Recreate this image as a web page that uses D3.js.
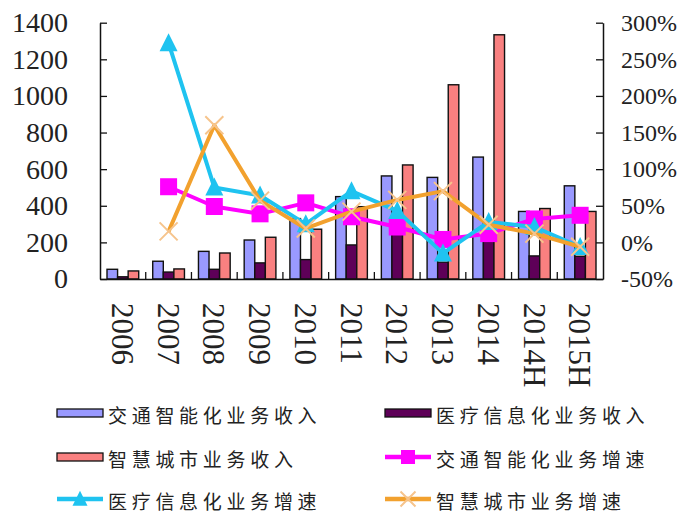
<!DOCTYPE html>
<html>
<head>
<meta charset="utf-8">
<script src="https://cdn.jsdelivr.net/npm/d3@7"></script>
<style>
  html, body { margin: 0; padding: 0; background: #fff; }
  svg { display: block; }
  .num { font-family: "Liberation Serif", "DejaVu Serif", serif; fill: #222; }
  .cjk { font-family: "Noto Sans CJK SC", sans-serif; fill: #222; }
</style>
</head>
<body>
<svg id="chart" width="680" height="515"></svg>
<script>
// Categories (years / half-years)
const categories = ["2006", "2007", "2008", "2009", "2010", "2011", "2012", "2013", "2014", "2014H", "2015H"];

// Revenue series (left axis)
const trafficRevenue = [53, 97, 151, 213, 330, 450, 563, 555, 666, 369, 509];
const medicalRevenue = [12, 38, 53, 88, 106, 186, 250, 92, 225, 126, 124];
const cityRevenue    = [44, 55, 142, 228, 272, 395, 623, 1061, 1334, 385, 369];

// Growth series in percent (right axis); first year has no growth value
const trafficGrowth = [null, 76, 49, 39, 54, 35, 21, 4, 12, 32, 37];
const medicalGrowth = [null, 272, 75, 64, 25, 70, 43, -15, 28, 21, -6];
const cityGrowth    = [null, 15, 160, 57, 19, 42, 58, 70, 24, 12, -6];

// Axis ticks
const leftTicks  = [0, 200, 400, 600, 800, 1000, 1200, 1400];
const rightTicks = [-50, 0, 50, 100, 150, 200, 250, 300];

// Series names
const barNames  = ["交通智能化业务收入", "医疗信息化业务收入", "智慧城市业务收入"];
const lineNames = ["交通智能化业务增速", "医疗信息化业务增速", "智慧城市业务增速"];

const barColors  = ["#9999ff", "#5e0058", "#f98080"];
const lineColors = ["#ff00ff", "#1fc3f0", "#f2a12e"];

const svg = d3.select("#chart");
const plot = { left: 100, right: 603, top: 22.7, bottom: 279 };

const x = d3.scaleBand().domain(categories).range([plot.left, plot.right]);
const sub = d3.scaleBand().domain([0, 1, 2])
  .range([7, x.bandwidth() - 7]);
const yL = d3.scaleLinear().domain([0, 1400]).range([plot.bottom, plot.top]);
const yR = d3.scaleLinear().domain([-50, 300]).range([plot.bottom, plot.top]);

// Bars
const barSeries = [trafficRevenue, medicalRevenue, cityRevenue];
barSeries.forEach((vals, si) => {
  svg.append("g").selectAll("rect")
    .data(vals.map((v, i) => ({ v, c: categories[i] })))
    .join("rect")
    .attr("x", d => x(d.c) + sub(si))
    .attr("width", sub.bandwidth())
    .attr("y", d => yL(d.v))
    .attr("height", d => yL(0) - yL(d.v))
    .attr("fill", barColors[si])
    .attr("stroke", "#111")
    .attr("stroke-width", 1.4);
});

// Marker drawers
function square(g, color, s) {
  g.append("rect").attr("x", -s / 2).attr("y", -s / 2).attr("width", s).attr("height", s)
    .attr("fill", color);
}
function triangle(g, color, s) {
  g.append("path").attr("d", `M0,${-s * 0.55}L${s * 0.5},${s * 0.45}L${-s * 0.5},${s * 0.45}Z`)
    .attr("fill", color);
}
function cross(g, color, s) {
  const h = s / 2;
  g.append("path").attr("d", `M${-h},${-h}L${h},${h}M${h},${-h}L${-h},${h}`)
    .attr("stroke", "#f6c48c").attr("stroke-width", 2).attr("fill", "none");
}
const markers = [square, triangle, cross];
const markerSizes = [17, 18, 18];

// Lines
const lineSeries = [trafficGrowth, medicalGrowth, cityGrowth];
const line = d3.line()
  .defined(d => d.v !== null)
  .x(d => x(d.c) + x.bandwidth() / 2)
  .y(d => yR(d.v));

lineSeries.forEach((vals, si) => {
  const data = vals.map((v, i) => ({ v, c: categories[i] }));
  const g = svg.append("g");
  g.append("path").datum(data)
    .attr("d", line)
    .attr("fill", "none")
    .attr("stroke", lineColors[si])
    .attr("stroke-width", 4)
    .attr("stroke-linejoin", "round");
  data.filter(d => d.v !== null).forEach(d => {
    const m = g.append("g")
      .attr("transform", `translate(${x(d.c) + x.bandwidth() / 2},${yR(d.v)})`);
    markers[si](m, lineColors[si], markerSizes[si]);
  });
});

// Left axis
const axL = svg.append("g").attr("transform", `translate(${plot.left},0)`)
  .call(d3.axisLeft(yL).tickValues(leftTicks).tickFormat(d3.format("d"))
    .tickSizeInner(-7).tickSizeOuter(0).tickPadding(32));
axL.selectAll("text").attr("class", "num").style("font-size", "28px").attr("font-family", null);

// Right axis
const axR = svg.append("g").attr("transform", `translate(${plot.right},0)`)
  .call(d3.axisRight(yR).tickValues(rightTicks).tickFormat(d => d + "%")
    .tickSizeInner(-7).tickSizeOuter(0).tickPadding(18));
axR.selectAll("text").attr("class", "num").style("font-size", "24px").attr("font-family", null);

[axL, axR].forEach(a => {
  a.select(".domain").attr("stroke", "#111").attr("stroke-width", 1.5);
  a.selectAll(".tick line").attr("stroke", "#111").attr("stroke-width", 1.3);
});

// Bottom axis: labels centred on categories, ticks on category boundaries
const axB = svg.append("g").attr("transform", `translate(0,${plot.bottom})`)
  .call(d3.axisBottom(x).tickSize(0).tickPadding(0));
axB.select(".domain").attr("stroke", "#111").attr("stroke-width", 1.5);
axB.selectAll(".tick text")
  .attr("class", "num")
  .attr("font-family", null)
  .style("font-size", "31px")
  .attr("text-anchor", "start")
  .attr("y", 0).attr("dy", "0.35em")
  .attr("transform", "translate(0,24) rotate(90)");

svg.append("g").selectAll("line")
  .data(categories.slice(1))
  .join("line")
  .attr("x1", d => x(d)).attr("x2", d => x(d))
  .attr("y1", plot.bottom).attr("y2", plot.bottom - 7)
  .attr("stroke", "#111").attr("stroke-width", 1.3);

// Legend: two columns, three rows
const legendItems = [
  { name: barNames[0], type: "bar", color: barColors[0] },
  { name: barNames[1], type: "bar", color: barColors[1] },
  { name: barNames[2], type: "bar", color: barColors[2] },
  { name: lineNames[0], type: "line", color: lineColors[0], mk: 0 },
  { name: lineNames[1], type: "line", color: lineColors[1], mk: 1 },
  { name: lineNames[2], type: "line", color: lineColors[2], mk: 2 }
];
const colX = [57, 385];
const rowY = [413, 457, 499];
const legend = svg.append("g");
legendItems.forEach((it, i) => {
  const g = legend.append("g")
    .attr("transform", `translate(${colX[i % 2]},${rowY[Math.floor(i / 2)]})`);
  if (it.type === "bar") {
    g.append("rect").attr("x", 0).attr("y", -4).attr("width", 46).attr("height", 8)
      .attr("fill", it.color).attr("stroke", "#111").attr("stroke-width", 1.3);
  } else {
    g.append("line").attr("x1", 0).attr("x2", 46).attr("y1", 0).attr("y2", 0)
      .attr("stroke", it.color).attr("stroke-width", 4.5);
    const m = g.append("g").attr("transform", "translate(23,0)");
    markers[it.mk](m, it.color, it.mk === 0 ? 14 : 15);
  }
  g.append("text").attr("class", "cjk")
    .attr("x", 51).attr("y", 3).attr("dy", "0.35em")
    .style("font-size", "19px")
    .style("letter-spacing", "4.7px")
    .text(it.name);
});
</script>
</body>
</html>
